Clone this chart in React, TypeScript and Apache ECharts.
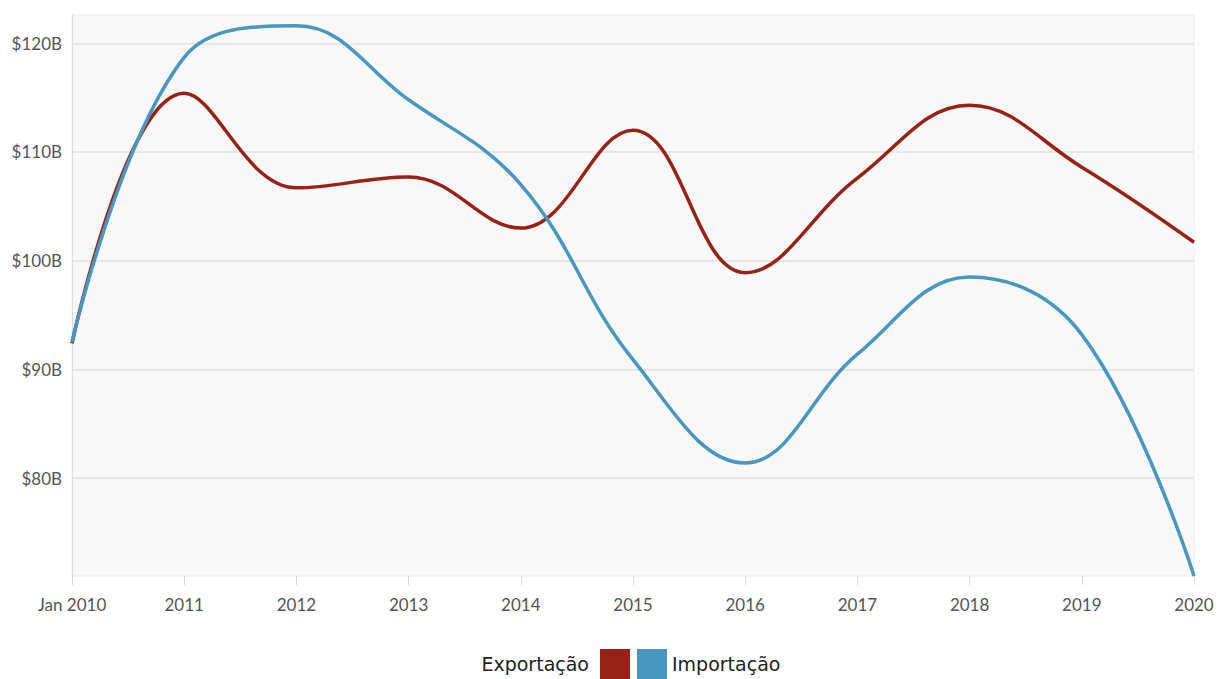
import React, { useEffect, useRef } from "react";
import * as echarts from "echarts";

const categories = ["Jan 2010", "2011", "2012", "2013", "2014", "2015", "2016", "2017", "2018", "2019", "2020"];
const exportacao = [92.4, 115.4, 106.7, 107.7, 103.0, 112.0, 98.9, 107.6, 114.3, 108.6, 101.7];
const importacao = [92.5, 118.7, 121.6, 114.8, 107.0, 90.9, 81.4, 91.4, 98.5, 93.2, 71.0];
const yTicks = [80, 90, 100, 110, 120];

export default function App() {
  const ref = useRef<HTMLDivElement>(null);
  useEffect(() => {
    const chart = echarts.init(ref.current!, null, { renderer: "svg" });
    const legendBase = {
      top: 649,
      padding: 0,
      itemWidth: 30,
      itemHeight: 30,
      icon: "rect",
      itemGap: 0,
    };
    const textBase = { fontFamily: "DejaVu Sans", fontSize: 19, color: "#222" };
    chart.setOption({
      animation: false,
      backgroundColor: "#ffffff",
      grid: {
        left: 72,
        right: 24,
        top: 15,
        bottom: 103,
        show: true,
        backgroundColor: "#f8f8f8",
        borderColor: "#ebebeb",
        borderWidth: 1,
      },
      legend: [
        { ...legendBase, data: ["Exportação"], align: "right", right: 588, textStyle: { ...textBase, padding: [6, 6, 0, 0] } },
        { ...legendBase, data: ["Importação"], align: "left", left: 637, textStyle: { ...textBase, padding: [6, 0, 0, 0] } },
      ],
      xAxis: {
        type: "category",
        data: categories,
        boundaryGap: false,
        axisLine: { show: false },
        axisTick: { show: true, length: 9, lineStyle: { color: "#dcdcdc" } },
        axisLabel: { fontFamily: "Lato", fontSize: 17, color: "#555", margin: 20 },
      },
      yAxis: {
        type: "value",
        min: 71,
        max: 122.6,
        axisLine: { show: true, lineStyle: { color: "#dcdcdc" } },
        axisTick: { show: false, customValues: yTicks },
        axisLabel: {
          customValues: yTicks,
          fontFamily: "Lato",
          fontSize: 17,
          color: "#555",
          margin: 10,
          formatter: (v: number) => "$" + v + "B",
        },
        splitLine: { show: true, lineStyle: { color: "#e0e0e0", width: 1.5 } },
      },
      series: [
        {
          name: "Exportação",
          type: "line",
          data: exportacao,
          smooth: 0.4,
          symbol: "none",
          color: "#982217",
          lineStyle: { width: 3.5, color: "#982217" },
        },
        {
          name: "Importação",
          type: "line",
          data: importacao,
          smooth: 0.4,
          symbol: "none",
          color: "#4897bf",
          lineStyle: { width: 3.5, color: "#4897bf" },
        },
      ],
    });
    return () => chart.dispose();
  }, []);
  return <div ref={ref} style={{ width: 1218, height: 679, position: "absolute", left: 0, top: 0 }} />;
}
